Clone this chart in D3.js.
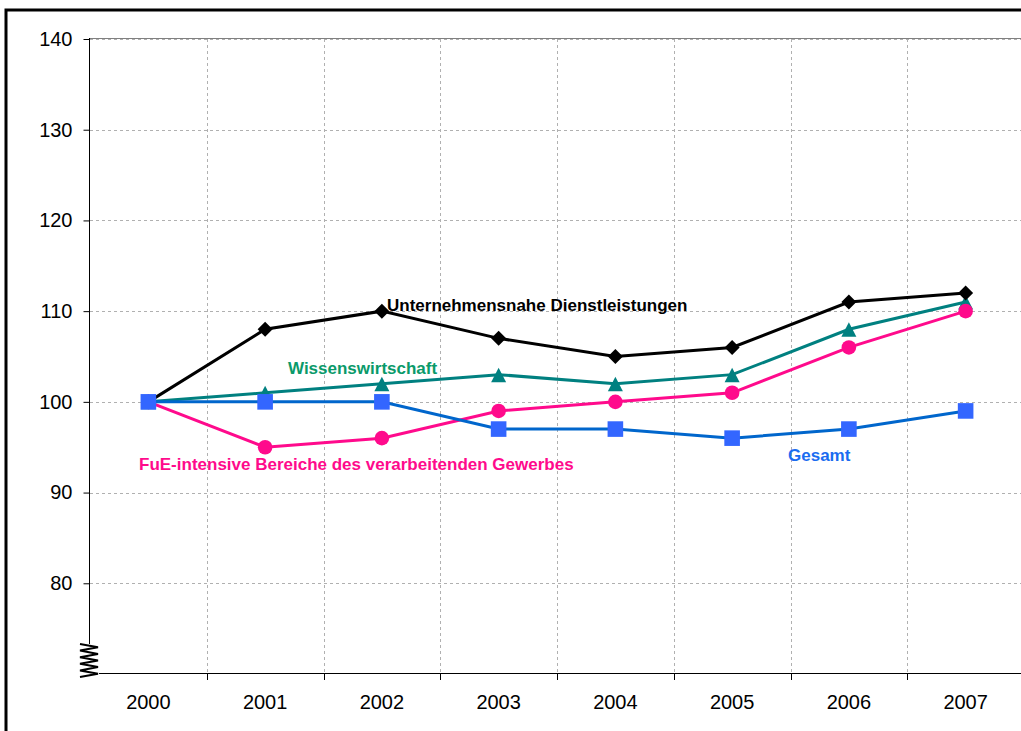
<!DOCTYPE html>
<html><head><meta charset="utf-8">
<script src="https://cdn.jsdelivr.net/npm/d3@7"></script>
<style>body{margin:0;background:#fff}svg{display:block;font-family:"Liberation Sans",Arial,sans-serif}</style>
</head><body>
<svg id="c" width="1021" height="731"></svg>
<script>
const years = ["2000","2001","2002","2003","2004","2005","2006","2007"];
const unternehmensnahe = [100,108,110,107,105,106,111,112];
const wissenswirtschaft = [100,101,102,103,102,103,108,111];
const fue = [100,95,96,99,100,101,106,110];
const gesamt = [100,100,100,97,97,96,97,99];
const yTicks = [80,90,100,110,120,130,140];

const svg = d3.select("#c");
const x = d3.scaleBand().domain(years).range([90,1024]);
const y = d3.scaleLinear().domain([70,140]).range([674,39]);

// outer frame
svg.append("rect").attr("x",6).attr("y",10).attr("width",1030).attr("height",740)
  .attr("fill","none").attr("stroke","#000").attr("stroke-width",3);

// gridlines
const grid = svg.append("g");
yTicks.forEach(v=>{
  grid.append("line").attr("x1",90).attr("x2",1024).attr("y1",Math.round(y(v))+0.5).attr("y2",Math.round(y(v))+0.5)
    .attr("stroke","#b0b0b0").attr("stroke-dasharray","3,3");
});
years.slice(1).forEach(yr=>{
  const xx = Math.round(x(yr))+0.5;
  grid.append("line").attr("x1",xx).attr("x2",xx).attr("y1",39).attr("y2",674)
    .attr("stroke","#b0b0b0").attr("stroke-dasharray","3,3");
});
// top border
svg.append("line").attr("x1",89).attr("x2",1024).attr("y1",38.5).attr("y2",38.5).attr("stroke","#808080");

// y axis
const yAxis = d3.axisLeft(y).tickValues(yTicks).tickSize(6).tickPadding(11);
const gy = svg.append("g").attr("transform","translate(89.5,0)").call(yAxis);
gy.select(".domain").remove();
gy.selectAll(".tick line").attr("stroke","#000");
gy.selectAll("text").attr("font-size",20).attr("fill","#000").attr("font-family","Liberation Sans, Arial, sans-serif");
svg.append("line").attr("x1",89.5).attr("x2",89.5).attr("y1",38).attr("y2",644).attr("stroke","#000");

// x axis
const gx = svg.append("g").attr("transform","translate(0,673.5)")
  .call(d3.axisBottom(x).tickSize(0).tickPadding(0));
gx.select(".domain").remove();
gx.selectAll("text").attr("font-size",20).attr("fill","#000").attr("font-family","Liberation Sans, Arial, sans-serif")
  .attr("dy",null).attr("y",35.5);
svg.append("line").attr("x1",99).attr("x2",1024).attr("y1",673.5).attr("y2",673.5).attr("stroke","#000");
years.slice(1).forEach(yr=>{
  const xx = Math.round(x(yr))+0.5;
  svg.append("line").attr("x1",xx).attr("x2",xx).attr("y1",673).attr("y2",680).attr("stroke","#000");
});

// axis break zigzag
const zz = [];
for(let i=0;i<=10;i++){ zz.push([i%2===0?80:98, 644+i*3.3]); }
svg.append("path").attr("d",d3.line()(zz)).attr("fill","none").attr("stroke","#000").attr("stroke-width",2);

const series = [
  {name:"u", values:unternehmensnahe, line:"#000000", fill:"#000000", marker:"diamond"},
  {name:"w", values:wissenswirtschaft, line:"#008080", fill:"#008080", marker:"triangle"},
  {name:"f", values:fue, line:"#FF0A8C", fill:"#FF0A8C", marker:"circle"},
  {name:"g", values:gesamt, line:"#0066CC", fill:"#3366FF", marker:"square"}
];
const cx = d=>x(d)+x.bandwidth()/2;
const line = d3.line().x((d,i)=>cx(years[i])).y(d=>y(d));
const markerPath = {
  diamond: "M0,-7.5L7.5,0L0,7.5L-7.5,0Z",
  triangle: "M0,-7L7.5,7.5L-7.5,7.5Z",
  circle: d3.symbol().type(d3.symbolCircle).size(Math.PI*7.3*7.3)(),
  square: "M-7.8,-7.8H7.8V7.8H-7.8Z"
};
series.forEach(s=>{
  svg.append("path").datum(s.values).attr("d",line).attr("fill","none").attr("stroke",s.line).attr("stroke-width",3);
});
["w","u","f","g"].forEach(n=>{
  const s = series.find(t=>t.name===n);
  svg.append("g").selectAll("path").data(s.values).join("path")
    .attr("d",markerPath[s.marker])
    .attr("transform",(d,i)=>`translate(${cx(years[i])},${y(d)})`)
    .attr("fill",s.fill);
});

// labels
const labels = [
  {t:"Unternehmensnahe Dienstleistungen", x:387, y:311, c:"#000000"},
  {t:"Wissenswirtschaft", x:288, y:374, c:"#0A9A6A"},
  {t:"FuE-intensive Bereiche des verarbeitenden Gewerbes", x:139, y:470, c:"#FF0A8C"},
  {t:"Gesamt", x:788, y:461, c:"#1A6CF0"}
];
svg.append("g").selectAll("text").data(labels).join("text")
  .attr("x",d=>d.x).attr("y",d=>d.y).attr("fill",d=>d.c)
  .attr("font-size",17).attr("font-weight","bold").text(d=>d.t);
</script>
</body></html>
